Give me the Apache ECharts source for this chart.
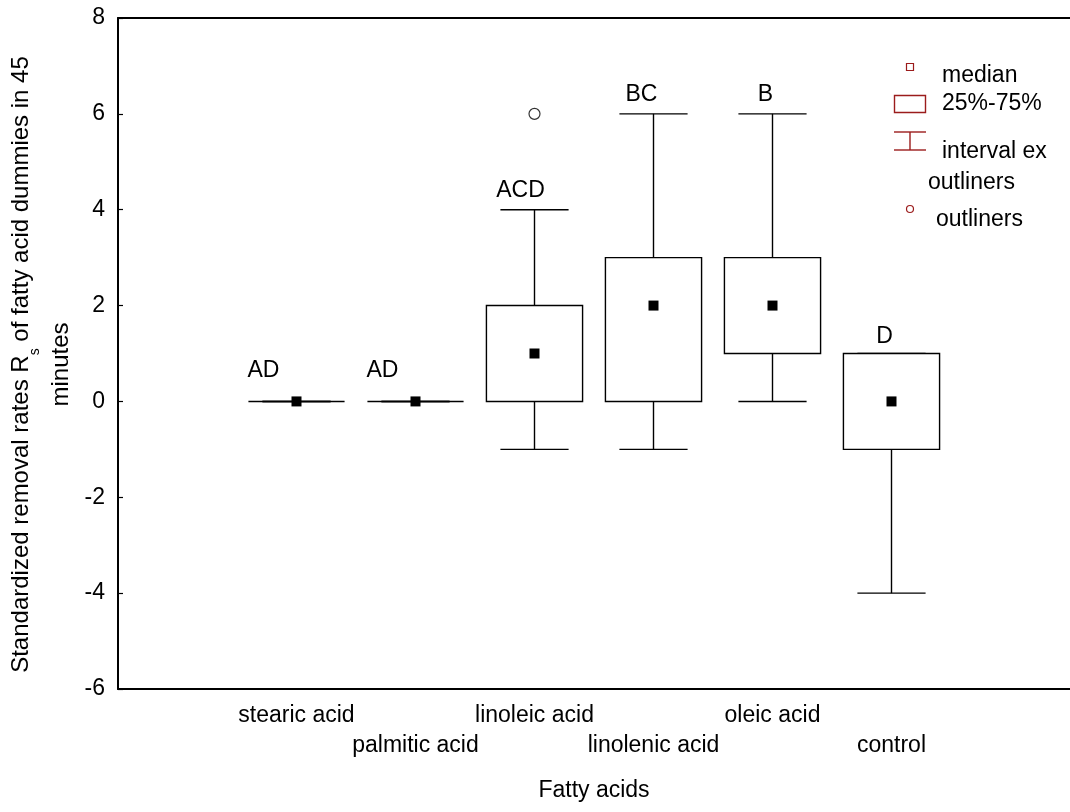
<!DOCTYPE html>
<html>
<head>
<meta charset="utf-8">
<script src="https://cdn.jsdelivr.net/npm/echarts@6/dist/echarts.min.js"></script>
<style>
  html, body { margin: 0; padding: 0; background: #fff; }
  #chart { width: 1070px; height: 812px; }
</style>
</head>
<body>
<div id="chart"></div>
<script>
// Fatty acid groups (blank slots pad the axis on either side)
const categories = ['', 'stearic acid', 'palmitic acid', 'linoleic acid', 'linolenic acid', 'oleic acid', 'control', ''];
const groups = ['stearic acid', 'palmitic acid', 'linoleic acid', 'linolenic acid', 'oleic acid', 'control'];
// Box statistics per group: non-outlier min, 25%, median, 75%, non-outlier max
const whiskerLow  = [0, 0, -1, -1, 0, -4];
const quartile1   = [0, 0, 0, 0, 1, -1];
const medians     = [0, 0, 1, 2, 2, 0];
const quartile3   = [0, 0, 2, 3, 3, 1];
const whiskerHigh = [0, 0, 4, 6, 6, 1];
// Outliers: [group, value]
const outliers = [['linoleic acid', 6]];
// Significance letters
const letters = ['AD', 'AD', 'ACD', 'BC', 'B', 'D'];
// Y-axis ticks
const yMin = -6, yMax = 8, yStep = 2;

const FONT = 'Liberation Sans, Arial, sans-serif';
const FS = 23;
const LEG = '#9b1c1c';

// Letter placement relative to the upper whisker (pixels)
const letterDx = [-33, -33, -14, -12, -7, -7];
const letterDy = [-31, -31, -19, -19, -19, -17];

const boxData = groups.map((g, i) => [categories.indexOf(g), whiskerLow[i], quartile1[i], medians[i], quartile3[i], whiskerHigh[i], i]);

function renderBox(params, api) {
  const x = api.value(0);
  const i = api.value(6);
  const slot = api.size([1, 0])[0];
  const bw = slot * 0.808;
  const cw = slot * 0.573;
  const pLow = api.coord([x, api.value(1)]);
  const pQ1 = api.coord([x, api.value(2)]);
  const pMed = api.coord([x, api.value(3)]);
  const pQ3 = api.coord([x, api.value(4)]);
  const pHigh = api.coord([x, api.value(5)]);
  const cx = pMed[0];
  const line = { stroke: '#000', lineWidth: 1.4 };
  const children = [
    { type: 'line', shape: { x1: cx, y1: pQ3[1], x2: cx, y2: pHigh[1] }, style: line },
    { type: 'line', shape: { x1: cx, y1: pQ1[1], x2: cx, y2: pLow[1] }, style: line },
    { type: 'line', shape: { x1: cx - cw / 2, y1: pHigh[1], x2: cx + cw / 2, y2: pHigh[1] }, style: line },
    { type: 'line', shape: { x1: cx - cw / 2, y1: pLow[1], x2: cx + cw / 2, y2: pLow[1] }, style: line },
    { type: 'rect', shape: { x: cx - bw / 2, y: pQ3[1], width: bw, height: pQ1[1] - pQ3[1] },
      style: { fill: '#fff', stroke: '#000', lineWidth: 1.4 } },
    { type: 'rect', shape: { x: cx - 5, y: pMed[1] - 5, width: 10, height: 10 }, style: { fill: '#000' } },
    { type: 'text', x: cx + letterDx[i], y: pHigh[1] + letterDy[i],
      style: { text: letters[i], fill: '#000', font: FS + 'px ' + FONT, textAlign: 'center', textVerticalAlign: 'middle' } }
  ];
  return { type: 'group', children };
}

const chart = echarts.init(document.getElementById('chart'));

const legendX = 910;
const legendText = (x, y, t) => ({ type: 'text', x, y, style: { text: t, fill: '#000', font: FS + 'px ' + FONT, textVerticalAlign: 'middle' } });
const legendGraphics = [
  { type: 'rect', shape: { x: legendX - 3.5, y: 63.5, width: 7, height: 7 }, style: { fill: 'none', stroke: LEG, lineWidth: 1.2 } },
  { type: 'rect', shape: { x: 894.5, y: 95.5, width: 31, height: 17 }, style: { fill: 'none', stroke: LEG, lineWidth: 1.4 } },
  { type: 'line', shape: { x1: 894, y1: 132, x2: 926, y2: 132 }, style: { stroke: LEG, lineWidth: 1.4 } },
  { type: 'line', shape: { x1: legendX, y1: 132, x2: legendX, y2: 150 }, style: { stroke: LEG, lineWidth: 1.4 } },
  { type: 'line', shape: { x1: 894, y1: 150, x2: 926, y2: 150 }, style: { stroke: LEG, lineWidth: 1.4 } },
  { type: 'circle', shape: { cx: legendX, cy: 209, r: 3.5 }, style: { fill: 'none', stroke: LEG, lineWidth: 1.2 } },
  legendText(942, 76, 'median'),
  legendText(942, 104, '25%-75%'),
  legendText(942, 152, 'interval ex'),
  legendText(928, 183, 'outliners'),
  legendText(936, 220, 'outliners')
];

chart.setOption({
  animation: false,
  backgroundColor: '#fff',
  textStyle: { fontFamily: FONT },
  grid: { left: 118, right: 0, top: 18, bottom: 123, containLabel: false, outerBoundsMode: 'none' },
  xAxis: [{
    type: 'category',
    data: categories,
    boundaryGap: true,
    axisLine: { onZero: false, lineStyle: { color: '#000', width: 2 } },
    axisTick: { show: false },
    axisLabel: {
      interval: 0,
      color: '#000',
      fontSize: FS,
      fontFamily: FONT,
      lineHeight: 30,
      margin: 12,
      formatter: (v, idx) => (idx % 2 === 0 && v ? '\n' + v : v)
    },
    name: 'Fatty acids',
    nameLocation: 'middle',
    nameGap: 90,
    nameTextStyle: { color: '#000', fontSize: FS, fontFamily: FONT },
    splitLine: { show: false }
  }, {
    type: 'category',
    data: categories,
    position: 'top',
    axisLine: { onZero: false, lineStyle: { color: '#000', width: 2 } },
    axisTick: { show: false },
    axisLabel: { show: false }
  }],
  yAxis: {
    type: 'value',
    min: yMin, max: yMax, interval: yStep,
    axisLine: { show: true, onZero: false, lineStyle: { color: '#000', width: 2 } },
    axisTick: { show: true, inside: true, length: 5, lineStyle: { color: '#000', width: 1.2 } },
    axisLabel: { color: '#000', fontSize: FS, fontFamily: FONT, margin: 13 },
    splitLine: { show: false },
    name: '{n|Standardized removal rates R}{sub|s}{n| of fatty acid dummies in 45}\n{n|minutes}',
    nameLocation: 'middle',
    nameRotate: 90,
    nameGap: 36,
    nameTextStyle: {
      color: '#000', fontSize: 24, fontFamily: FONT, align: 'center',
      padding: [0, 22, 0, 0],
      rich: {
        n: { fontSize: 24, fontFamily: FONT, color: '#000', lineHeight: 40 },
        sub: { fontSize: 14, fontFamily: FONT, color: '#000', lineHeight: 34, verticalAlign: 'bottom' }
      }
    }
  },
  series: [{
    type: 'custom',
    renderItem: renderBox,
    data: boxData,
    encode: { x: 0, y: [1, 2, 3, 4, 5] },
    clip: false,
    z: 3
  }, {
    type: 'scatter',
    data: outliers,
    symbol: 'circle',
    symbolSize: 11,
    itemStyle: { color: '#fff', borderColor: '#000', borderWidth: 1.2 },
    z: 4
  }],
  graphic: legendGraphics
});
</script>
</body>
</html>
